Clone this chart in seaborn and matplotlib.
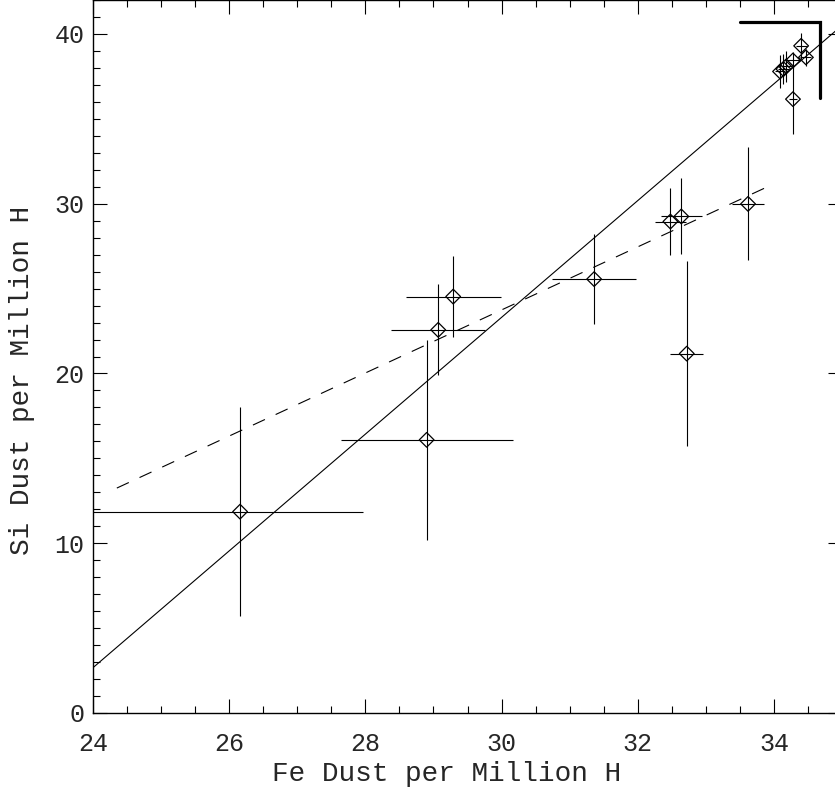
import numpy as np
import pandas as pd
import matplotlib
matplotlib.use('Agg')
import matplotlib.pyplot as plt
from matplotlib.ticker import MultipleLocator
import seaborn as sns

# ----- Data -----
fe = [26.16, 28.90, 29.07, 29.29, 31.36, 32.72, 32.48, 32.64, 33.62,
      34.40, 34.47, 34.28, 34.28, 34.09, 34.14, 34.18]
si = [11.86, 16.09, 22.57, 24.53, 25.56, 21.17, 28.95, 29.25, 29.99,
      39.30, 38.62, 38.44, 36.16, 37.79, 37.93, 38.09]
fe_err_lo = [2.30, 1.26, 0.69, 0.70, 0.62, 0.24, 0.23, 0.30, 0.23,
             0.08, 0.08, 0.10, 0.06, 0.08, 0.08, 0.08]
fe_err_hi = [1.80, 1.27, 0.69, 0.70, 0.62, 0.24, 0.23, 0.30, 0.23,
             0.08, 0.08, 0.10, 0.06, 0.08, 0.08, 0.08]
si_err = [6.15, 5.90, 2.68, 2.38, 2.65, 5.46, 1.95, 2.24, 3.33,
          0.75, 0.50, 0.50, 2.07, 0.95, 0.90, 0.90]

# fit lines (end points)
solid_x = [24.0, 35.0]
solid_y = [2.67, 40.50]
dashed_x = [24.35, 33.87]
dashed_y = [13.25, 30.93]

# upper-limit bracket in the corner
bracket_x = [33.50, 34.68, 34.68]
bracket_y = [40.72, 40.72, 36.20]

df = pd.DataFrame({'fe': fe, 'si': si})

# ----- Style -----
sns.set_style('ticks')
plt.rcParams['font.family'] = ['Liberation Mono', 'DejaVu Sans Mono']
plt.rcParams['lines.scale_dashes'] = False
plt.rcParams['xtick.direction'] = 'in'
plt.rcParams['ytick.direction'] = 'in'
plt.rcParams['xtick.top'] = True
plt.rcParams['ytick.right'] = True

fig = plt.figure(figsize=(8.35, 7.95), dpi=100)
ax = fig.add_axes([93 / 835, 82 / 795, 749 / 835, 713 / 795])

# fits
sns.lineplot(x=solid_x, y=solid_y, ax=ax, color='k', lw=0.8)
sns.lineplot(x=dashed_x, y=dashed_y, ax=ax, color='k', lw=0.8, dashes=False)
ax.lines[-1].set_dashes((9.5, 8.5))

# error bars + diamonds
ax.errorbar(fe, si, xerr=[fe_err_lo, fe_err_hi], yerr=si_err, fmt='none',
            ecolor='k', elinewidth=0.8, capsize=0)
sns.scatterplot(data=df, x='fe', y='si', ax=ax, marker='D', s=56,
                facecolor='none', edgecolor='k', linewidth=0.9, zorder=3)

ax.plot(bracket_x, bracket_y, color='k', lw=2.3, solid_joinstyle='miter')

# ----- Axes -----
ax.set_xlim(24, 35)
ax.set_ylim(0, 42)
ax.xaxis.set_major_locator(MultipleLocator(2))
ax.xaxis.set_minor_locator(MultipleLocator(0.5))
ax.yaxis.set_major_locator(MultipleLocator(10))
ax.yaxis.set_minor_locator(MultipleLocator(1))
ax.tick_params(which='major', length=10, width=0.8, labelsize=18, color='k')
ax.tick_params(which='minor', length=5, width=0.8, color='k')
ax.tick_params(axis='x', which='major', pad=14)
ax.tick_params(axis='y', which='major', pad=6)
for sp in ax.spines.values():
    sp.set_linewidth(1.0)
    sp.set_color('k')

ax.set_xlabel('Fe Dust per Million H', fontsize=20)
ax.set_ylabel('Si Dust per Million H', fontsize=20)
ax.xaxis.set_label_coords(0.4726, -0.068)
ax.yaxis.set_label_coords(-0.078, 0.467)

fig.savefig('out.png', dpi=100)
